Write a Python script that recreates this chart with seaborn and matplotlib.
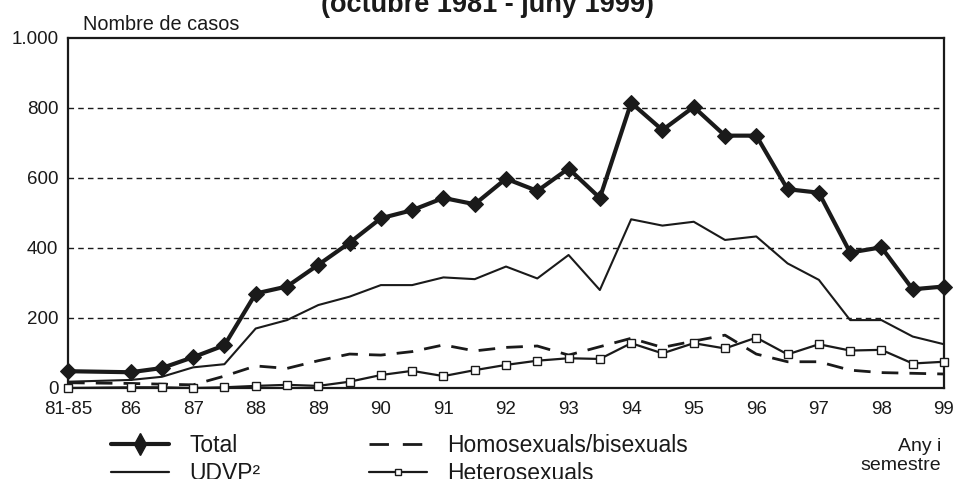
import numpy as np
import pandas as pd
import seaborn as sns
import matplotlib.pyplot as plt
from matplotlib.lines import Line2D

# Semestres (81-85 agrupat, després cada semestre de 1986 a juny 1999)
semestre = [85, 86, 86.5, 87, 87.5, 88, 88.5, 89, 89.5, 90, 90.5, 91, 91.5, 92,
            92.5, 93, 93.5, 94, 94.5, 95, 95.5, 96, 96.5, 97, 97.5, 98, 98.5, 99]
total = [48, 45, 57, 88, 122, 270, 290, 352, 415, 485, 508, 543, 525, 598,
         563, 627, 543, 815, 737, 803, 721, 721, 568, 558, 387, 402, 282, 290]
udvp = [18, 23, 32, 59, 68, 170, 194, 237, 261, 294, 294, 316, 311, 347,
        313, 380, 280, 482, 464, 475, 423, 433, 356, 309, 194, 194, 147, 125]
homo = [15, 13, 11, 9, 34, 63, 56, 78, 97, 94, 104, 123, 106, 116,
        120, 94, 118, 142, 116, 134, 151, 97, 75, 75, 51, 44, 42, 40]
hetero = [0, 2, 2, 0, 2, 6, 9, 6, 18, 37, 49, 34, 51, 66,
          78, 85, 83, 128, 99, 128, 113, 144, 96, 125, 107, 109, 70, 75]

anys = [85, 86, 87, 88, 89, 90, 91, 92, 93, 94, 95, 96, 97, 98, 99]
etiquetes_anys = ["81-85", "86", "87", "88", "89", "90", "91", "92", "93",
                  "94", "95", "96", "97", "98", "99"]
valors_y = [0, 200, 400, 600, 800, 1000]
etiquetes_y = ["0", "200", "400", "600", "800", "1.000"]

df = pd.DataFrame({"semestre": semestre, "total": total, "udvp": udvp,
                   "homo": homo, "hetero": hetero})

sns.set_style("white")
plt.rcParams["font.family"] = ["Liberation Sans", "DejaVu Sans"]
ink = "#1a1a1a"

fig = plt.figure(figsize=(9.59, 4.79), dpi=100)
ax = fig.add_axes([68 / 959, 1 - 388 / 479, 876 / 959, 350 / 479])

sns.lineplot(data=df, x="semestre", y="homo", ax=ax, color=ink, lw=2.0,
             linestyle=(0, (6, 4)), clip_on=False, zorder=3)
sns.lineplot(data=df, x="semestre", y="udvp", ax=ax, color=ink, lw=1.5,
             clip_on=False, zorder=3)
sns.lineplot(data=df, x="semestre", y="hetero", ax=ax, color=ink, lw=1.6,
             marker="s", ms=5.5, mfc="white", mec=ink, mew=1.0,
             clip_on=False, zorder=4)
sns.lineplot(data=df, x="semestre", y="total", ax=ax, color=ink, lw=3.0,
             marker="D", ms=8.5, mfc=ink, mec=ink, clip_on=False, zorder=5)

ax.set_xlim(85, 99)
ax.set_ylim(0, 1000)
ax.set_xticks(anys)
ax.set_xticklabels(etiquetes_anys)
ax.set_xticks([a + 0.5 for a in anys[:-1]], minor=True)
ax.set_yticks(valors_y)
ax.set_yticklabels(etiquetes_y)
ax.set_xlabel("")
ax.set_ylabel("")

for v in valors_y[1:-1]:
    ax.axhline(v, color=ink, lw=1.0, linestyle=(0, (4, 3)), zorder=1)

for s in ax.spines.values():
    s.set_color(ink)
    s.set_linewidth(1.6)

ax.tick_params(axis="x", which="both", direction="out", length=7, width=1.2,
               color=ink, labelsize=13.5, pad=2, labelcolor=ink)
ax.tick_params(axis="y", which="major", direction="out", length=5, width=1.2,
               color=ink, labelsize=13.5, pad=2, labelcolor=ink)

fig.text(0.508, 1 - 12 / 479, "(octubre 1981 - juny 1999)", ha="center",
         va="baseline", fontsize=19.5, fontweight="bold", color=ink)
fig.text(83 / 959, 1 - 30 / 479, "Nombre de casos", ha="left",
         va="baseline", fontsize=14.3, color=ink)
fig.text(941 / 959, 1 - 470 / 479, "Any i\nsemestre", ha="right",
         va="baseline", fontsize=14, color=ink, linespacing=1.12,
         multialignment="right")

h_total = Line2D([], [], color=ink, lw=3.0, marker="d", ms=11)
h_udvp = Line2D([], [], color=ink, lw=1.6)
h_homo = Line2D([], [], color=ink, lw=2.0, linestyle=(0, (7, 5)))
h_hetero = Line2D([], [], color=ink, lw=1.6, marker="s", ms=5,
                  mfc="white", mec=ink)

leg_kw = dict(frameon=False, fontsize=16.5, handlelength=2.5,
              handletextpad=0.9, labelspacing=0.2, borderpad=0,
              loc="upper left", labelcolor=ink)
fig.legend([h_total, h_udvp], ["Total", "UDVP²"],
           bbox_to_anchor=(100 / 959, 1 - 423 / 479), **leg_kw)
fig.legend([h_homo, h_hetero], ["Homosexuals/bisexuals", "Heterosexuals"],
           bbox_to_anchor=(358 / 959, 1 - 423 / 479), **leg_kw)

fig.savefig("out.png", dpi=100)
